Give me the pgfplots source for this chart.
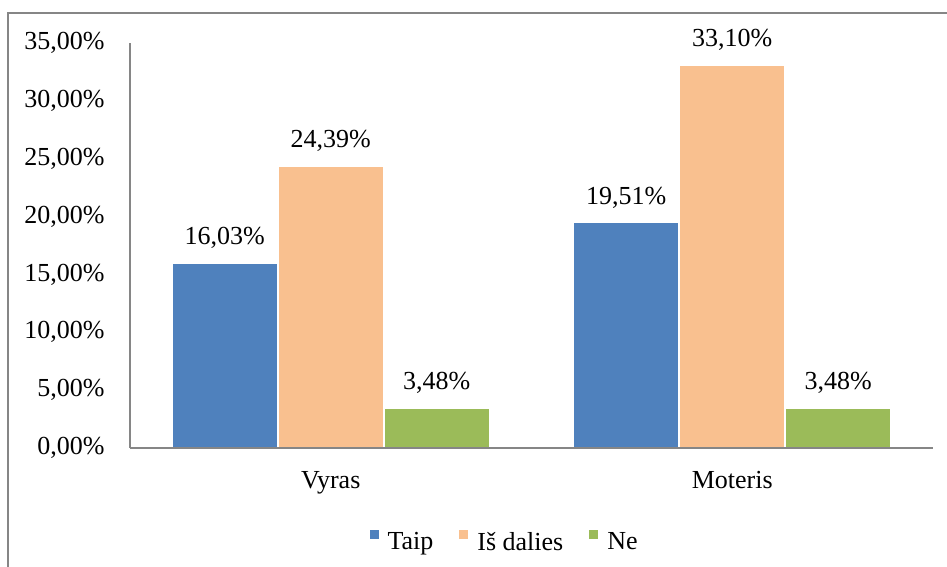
\documentclass[border=0pt]{standalone}
\usepackage{fontspec}
\setmainfont{Liberation Serif}
\usepackage{pgfplots}
\pgfplotsset{compat=1.18}
\definecolor{taip}{RGB}{79,129,189}
\definecolor{dalies}{RGB}{249,192,143}
\definecolor{ne}{RGB}{155,187,89}
\definecolor{axisgray}{RGB}{134,134,134}
\begin{document}
\fontsize{13}{15.6}\selectfont
\begin{tikzpicture}
\useasboundingbox (0,0) rectangle (473.5pt,283.5pt);
\draw[axisgray, line width=1pt] (4pt,0) -- (4pt,277pt) -- (473.5pt,277pt);
\begin{axis}[
    at={(65pt,59.5pt)}, anchor=south west,
    scale only axis,
    width=401.5pt, height=202.5pt,
    ymin=0, ymax=35,
    xmin=-0.5, xmax=1.5,
    ytick={0,5,...,35},
    yticklabel={\pgfmathprintnumber[fixed,fixed zerofill,precision=2,use comma,assume math mode=true]{\tick}\%},
    yticklabel style={inner sep=0pt, anchor=east, xshift=-12.5pt, text=black},
    xtick={0,1},
    xticklabels={Vyras,Moteris},
    xticklabel style={inner sep=0pt, anchor=base, yshift=-20pt, text=black},
    axis x line*=bottom,
    axis y line*=left,
    axis line style={axisgray, line width=0.75pt},
    axis on top,
    major tick length=0pt,
    ybar=0pt,
    bar width=0.264,
    nodes near coords={\pgfmathprintnumber[fixed,fixed zerofill,precision=2,use comma,assume math mode=true]{\pgfplotspointmeta}\%},
    every node near coord/.append style={anchor=base, inner sep=0pt, yshift=9pt, text=black},
    clip=false,
    legend columns=3,
    legend style={at={(0.464,-0.2296)}, anchor=center, draw=none,
        /tikz/every odd column/.append style={column sep=3.5pt},
        /tikz/every even column/.append style={column sep=12pt},
        nodes={inner sep=0pt, text=black}},
    legend image code/.code={\fill[#1] (0pt,1.5pt) rectangle (5.5pt,7pt);},
]
\addplot[fill=taip, draw=white, line width=1pt] coordinates {(0,16.03) (1,19.51)};
\addplot[fill=dalies, draw=white, line width=1pt] coordinates {(0,24.39) (1,33.10)};
\addplot[fill=ne, draw=white, line width=1pt] coordinates {(0,3.48) (1,3.48)};
\legend{Taip, Iš dalies, Ne}
\end{axis}
\end{tikzpicture}
\end{document}
